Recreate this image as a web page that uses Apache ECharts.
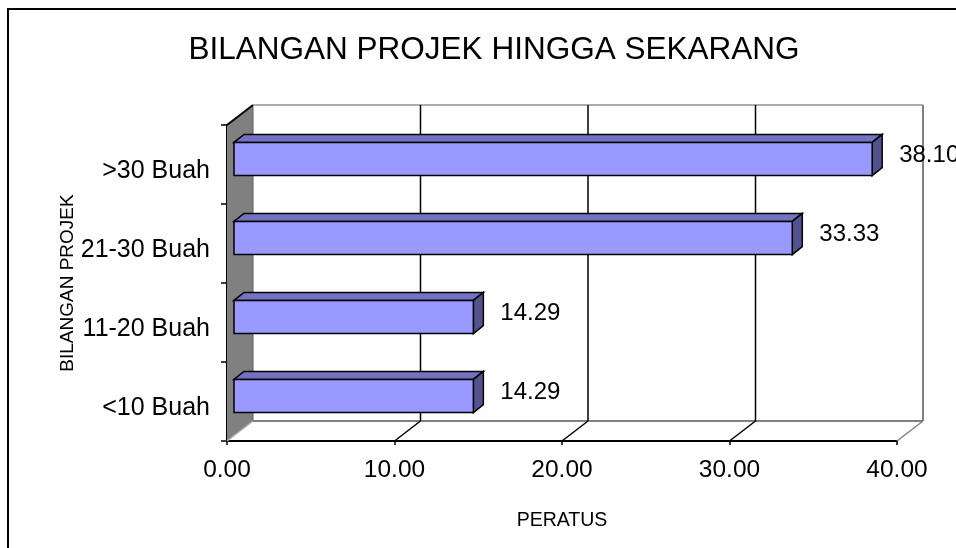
<!DOCTYPE html>
<html>
<head>
<meta charset="utf-8">
<script src="https://cdn.jsdelivr.net/npm/echarts@6/dist/echarts.min.js"></script>
<style>
  html, body { margin: 0; padding: 0; background: #fff; }
  #chart { width: 956px; height: 548px; }
</style>
</head>
<body>
<div id="chart"></div>
<script>
// data (bottom to top, like the category axis)
var categories = ['<10 Buah', '11-20 Buah', '21-30 Buah', '>30 Buah'];
var values = [14.29, 14.29, 33.33, 38.10];
var xTicks = [0, 10, 20, 30, 40];

var FONT = 'Liberation Sans, Arial, sans-serif';
// depth of the 3d box (pixels) and of the bars inside it
var WALL_DX = 26, WALL_DY = -20;
var BAR_FX = 7, BAR_FY = -5.5;   // bar front face offset
var BAR_DX = 10, BAR_DY = -8;    // bar depth

var chart = echarts.init(document.getElementById('chart'));

function frameItem(params, api) {
  var cs = params.coordSys;
  var x0 = api.coord([0, 0])[0];
  var x1 = api.coord([40, 0])[0];
  var yTop = cs.y, yBot = cs.y + cs.height;
  var kids = [];
  // left wall
  kids.push({
    type: 'polygon',
    shape: { points: [[x0, yTop], [x0 + WALL_DX, yTop + WALL_DY], [x0 + WALL_DX, yBot + WALL_DY], [x0, yBot]] },
    style: { fill: '#808080', stroke: null }
  });
  kids.push({ type: 'line', shape: { x1: x0 + WALL_DX, y1: yTop + WALL_DY, x2: x0 + WALL_DX, y2: yBot + WALL_DY },
    style: { stroke: '#5a5a5a', lineWidth: 1 } });
  kids.push({ type: 'line', shape: { x1: x0, y1: yTop, x2: x0 + WALL_DX, y2: yTop + WALL_DY },
    style: { stroke: '#000', lineWidth: 2 } });
  kids.push({ type: 'line', shape: { x1: x0, y1: yBot, x2: x0 + WALL_DX, y2: yBot + WALL_DY },
    style: { stroke: '#b0b0b0', lineWidth: 1.5 } });
  // back wall edges
  kids.push({ type: 'line', shape: { x1: x0 + WALL_DX, y1: yTop + WALL_DY, x2: x1 + WALL_DX, y2: yTop + WALL_DY },
    style: { stroke: '#909090', lineWidth: 1.5 } });
  kids.push({ type: 'line', shape: { x1: x0 + WALL_DX, y1: yBot + WALL_DY, x2: x1 + WALL_DX, y2: yBot + WALL_DY },
    style: { stroke: '#808080', lineWidth: 2 } });
  // gridlines on the back wall and across the floor
  xTicks.forEach(function (t) {
    if (t === 0) return;
    var x = api.coord([t, 0])[0];
    var last = t === xTicks[xTicks.length - 1];
    var col = last ? '#808080' : '#000';
    kids.push({ type: 'line', shape: { x1: x + WALL_DX, y1: yTop + WALL_DY, x2: x + WALL_DX, y2: yBot + WALL_DY },
      style: { stroke: col, lineWidth: last ? 2 : 1.5 } });
    kids.push({ type: 'line', shape: { x1: x, y1: yBot, x2: x + WALL_DX, y2: yBot + WALL_DY },
      style: { stroke: col, lineWidth: 1.5 } });
  });
  return { type: 'group', children: kids };
}

function barItem(params, api) {
  var idx = api.value(1);
  var v = api.value(0);
  var p0 = api.coord([0, idx]);
  var p1 = api.coord([v, idx]);
  var band = api.size([0, 1])[1];
  var h = band * 0.42;
  var xl = p0[0] + BAR_FX, xr = p1[0] + BAR_FX;
  var yc = p0[1] + BAR_FY;
  var yt = yc - h / 2, yb = yc + h / 2;
  var line = { stroke: '#000', lineWidth: 1.5, lineJoin: 'miter' };
  return {
    type: 'group',
    children: [
      { type: 'polygon',
        shape: { points: [[xl, yt], [xl + BAR_DX, yt + BAR_DY], [xr + BAR_DX, yt + BAR_DY], [xr, yt]] },
        style: Object.assign({ fill: '#7373c1' }, line) },
      { type: 'polygon',
        shape: { points: [[xr, yt], [xr + BAR_DX, yt + BAR_DY], [xr + BAR_DX, yb + BAR_DY], [xr, yb]] },
        style: Object.assign({ fill: '#52528e' }, line) },
      { type: 'rect',
        shape: { x: xl, y: yt, width: xr - xl, height: h },
        style: Object.assign({ fill: '#9999ff' }, line) },
      { type: 'text',
        x: xr + BAR_DX + 17, y: yc + BAR_DY / 2,
        style: { text: v.toFixed(2), fill: '#000', font: '24px ' + FONT, align: 'left', verticalAlign: 'middle' } }
    ]
  };
}

chart.setOption({
  animation: false,
  backgroundColor: '#fff',
  title: {
    text: 'BILANGAN PROJEK HINGGA SEKARANG',
    left: 489, top: 29, textAlign: 'center',
    textStyle: { fontFamily: FONT, fontSize: 31.5, fontWeight: 'normal', color: '#000' }
  },
  graphic: [{
    type: 'rect', shape: { x: 8, y: 9, width: 1000, height: 1000 },
    style: { fill: null, stroke: '#000', lineWidth: 2 }, z: 100
  }],
  grid: { left: 227, top: 125, width: 670, height: 316, containLabel: false },
  xAxis: {
    type: 'value', min: 0, max: 40, interval: 10,
    name: 'PERATUS', nameLocation: 'middle', nameGap: 70,
    nameTextStyle: { fontFamily: FONT, fontSize: 19.5, color: '#000' },
    axisLine: { show: true, lineStyle: { color: '#000', width: 2 } },
    axisTick: { show: true, length: 4, lineStyle: { color: '#000', width: 1.5 } },
    axisLabel: { fontFamily: FONT, fontSize: 24.5, color: '#000', margin: 17,
      formatter: function (v) { return v.toFixed(2); } },
    splitLine: { show: false }
  },
  yAxis: {
    type: 'category', data: categories,
    name: 'BILANGAN PROJEK', nameLocation: 'middle', nameGap: 150, nameRotate: 90,
    nameMoveOverlap: false,
    nameTextStyle: { fontFamily: FONT, fontSize: 19, color: '#000' },
    axisLine: { show: true, lineStyle: { color: '#000', width: 2 } },
    axisTick: { show: true, length: 6, lineStyle: { color: '#000', width: 1.5 } },
    axisLabel: { color: '#000', margin: 17,
      formatter: function (v) { return '{c|' + v + '}'; },
      rich: { c: { fontFamily: FONT, fontSize: 25, color: '#000', padding: [14, 0, 0, 0] } } },
    splitLine: { show: false }
  },
  series: [
    { type: 'custom', name: 'frame', renderItem: frameItem, data: [[0, 0]], z: 1, silent: true },
    { type: 'custom', name: 'bars', renderItem: barItem, z: 5,
      data: values.map(function (v, i) { return [v, i]; }) }
  ]
});
</script>
</body>
</html>
